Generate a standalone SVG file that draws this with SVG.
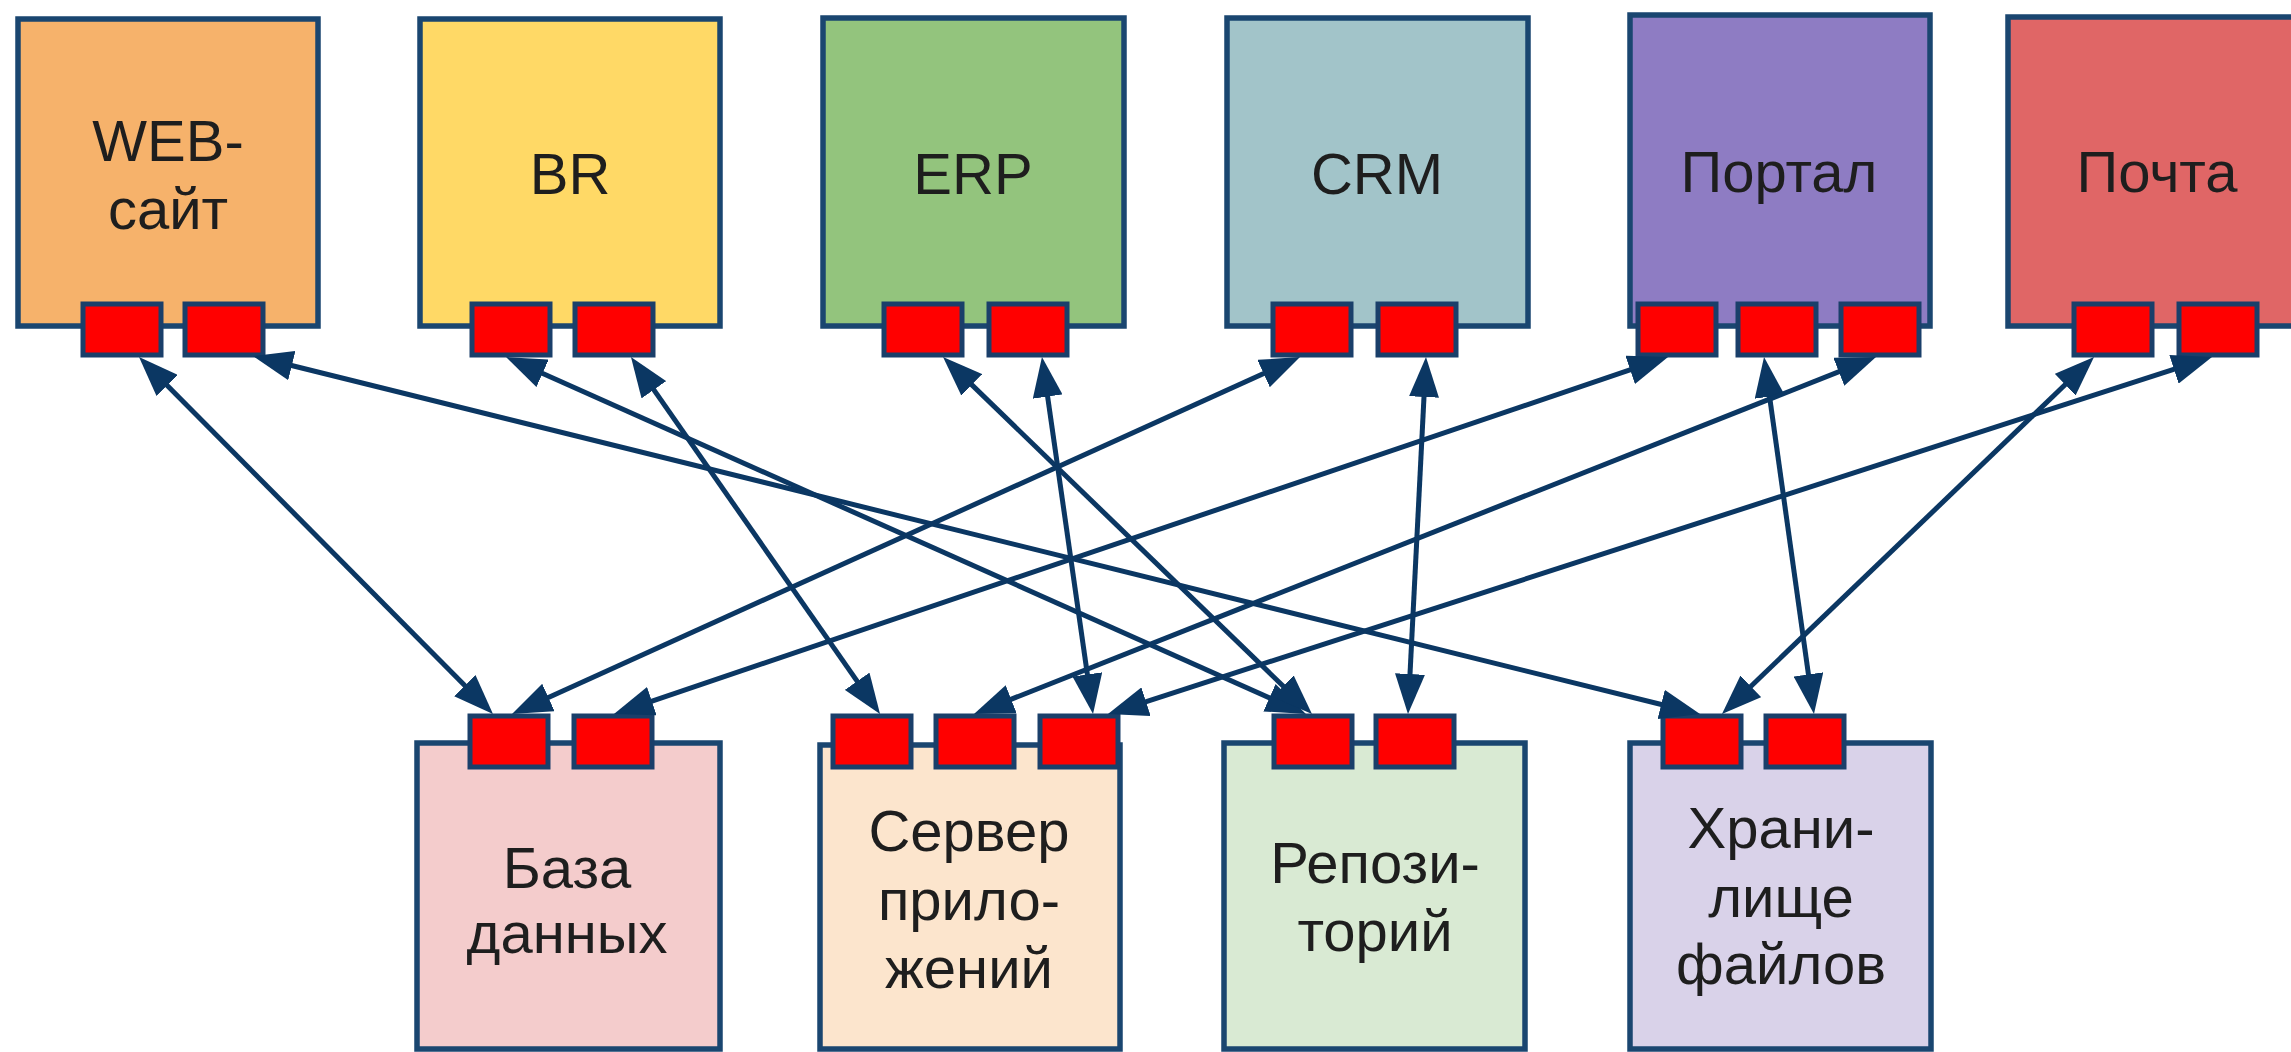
<svg xmlns="http://www.w3.org/2000/svg" width="2291" height="1052" viewBox="0 0 2291 1052">
<style>
.box{stroke:#1A4670;stroke-width:5.5}
.pin{fill:#FF0000;stroke:#1A3F6A;stroke-width:5}
.pinin{fill:none;stroke:#B0102A;stroke-width:2}
.lbl{font-family:"Liberation Sans",Arial,sans-serif;font-size:58px;fill:#1E1E1E;text-anchor:middle}
.con{stroke:#0B3763;stroke-width:5;fill:none;marker-start:url(#ah);marker-end:url(#ah)}
</style>
<defs>
<marker id="ah" markerUnits="userSpaceOnUse" markerWidth="40" markerHeight="30" refX="20" refY="15" orient="auto-start-reverse" viewBox="0 0 40 30">
<path d="M0,0 L40,15 L0,30 z" fill="#0B3763"/>
</marker>
</defs>
<rect width="2291" height="1052" fill="#FFFFFF"/>

<g id="web">
<rect class="box" x="18" y="19" width="300" height="307" fill="#F6B26B"/>
<text class="lbl" x="168" y="161">WEB-</text>
<text class="lbl" x="168" y="229">сайт</text>
<rect class="pin" x="83" y="304" width="78" height="51"/>
<rect class="pin" x="185" y="304" width="78" height="51"/>
</g>
<g id="br">
<rect class="box" x="420" y="19" width="300" height="307" fill="#FFD966"/>
<text class="lbl" x="570" y="194">BR</text>
<rect class="pin" x="472" y="304" width="78" height="51"/>
<rect class="pin" x="575" y="304" width="78" height="51"/>
</g>
<g id="erp">
<rect class="box" x="823" y="18" width="301" height="308" fill="#93C47D"/>
<text class="lbl" x="973" y="194">ERP</text>
<rect class="pin" x="884" y="304" width="78" height="51"/>
<rect class="pin" x="989" y="304" width="78" height="51"/>
</g>
<g id="crm">
<rect class="box" x="1227" y="18" width="301" height="308" fill="#A2C4C9"/>
<text class="lbl" x="1377" y="194">CRM</text>
<rect class="pin" x="1273" y="304" width="78" height="51"/>
<rect class="pin" x="1378" y="304" width="78" height="51"/>
</g>
<g id="portal">
<rect class="box" x="1630" y="15" width="300" height="311" fill="#8E7CC3"/>
<text class="lbl" x="1779" y="192">Портал</text>
<rect class="pin" x="1638" y="304" width="78" height="51"/>
<rect class="pin" x="1738" y="304" width="78" height="51"/>
<rect class="pin" x="1841" y="304" width="78" height="51"/>
</g>
<g id="mail">
<rect class="box" x="2008" y="17" width="300" height="309" fill="#E06666"/>
<text class="lbl" x="2157" y="192">Почта</text>
<rect class="pin" x="2074" y="304" width="78" height="51"/>
<rect class="pin" x="2179" y="304" width="78" height="51"/>
</g>

<g id="db">
<rect class="box" x="417" y="743" width="303" height="306" fill="#F4CCCC"/>
<text class="lbl" x="567" y="888">База</text>
<text class="lbl" x="567" y="953">данных</text>
<rect class="pin" x="470" y="716" width="78" height="51"/>
<rect class="pin" x="574" y="716" width="78" height="51"/>
</g>
<g id="appserver">
<rect class="box" x="820" y="745" width="300" height="304" fill="#FCE5CD"/>
<text class="lbl" x="969" y="851">Сервер</text>
<text class="lbl" x="969" y="920">прило-</text>
<text class="lbl" x="969" y="988">жений</text>
<rect class="pin" x="833" y="716" width="78" height="51"/>
<rect class="pin" x="936" y="716" width="78" height="51"/>
<rect class="pin" x="1040" y="716" width="78" height="51"/>
</g>
<g id="repo">
<rect class="box" x="1224" y="743" width="301" height="306" fill="#D9EAD3"/>
<text class="lbl" x="1375" y="883">Репози-</text>
<text class="lbl" x="1375" y="951">торий</text>
<rect class="pin" x="1274" y="716" width="78" height="51"/>
<rect class="pin" x="1376" y="716" width="78" height="51"/>
</g>
<g id="files">
<rect class="box" x="1630" y="743" width="301" height="306" fill="#D9D2E9"/>
<text class="lbl" x="1781" y="848">Храни-</text>
<text class="lbl" x="1781" y="917">лище</text>
<text class="lbl" x="1781" y="984">файлов</text>
<rect class="pin" x="1663" y="716" width="78" height="51"/>
<rect class="pin" x="1766" y="716" width="78" height="51"/>
</g>

<g id="connectors">
<line class="con" x1="153.1" y1="371.2" x2="478.9" y2="699.8"/>
<line class="con" x1="272.4" y1="360.8" x2="1680.6" y2="709.2"/>
<line class="con" x1="524.3" y1="365.2" x2="1287.7" y2="705.9"/>
<line class="con" x1="642.4" y1="373.4" x2="868.6" y2="697.6"/>
<line class="con" x1="957.4" y1="370.9" x2="1297.6" y2="700.1"/>
<line class="con" x1="1044.8" y1="376.8" x2="1090.2" y2="694.2"/>
<line class="con" x1="1281.8" y1="365.3" x2="530.2" y2="705.7"/>
<line class="con" x1="1425.0" y1="377.0" x2="1409.0" y2="694.0"/>
<line class="con" x1="1649.1" y1="363.4" x2="632.9" y2="707.6"/>
<line class="con" x1="1766.8" y1="376.8" x2="1811.2" y2="694.2"/>
<line class="con" x1="1857.4" y1="364.4" x2="992.6" y2="706.6"/>
<line class="con" x1="2079.6" y1="370.8" x2="1736.4" y2="700.2"/>
<line class="con" x1="2193.0" y1="363.2" x2="1127.0" y2="707.8"/>
</g>
</svg>
